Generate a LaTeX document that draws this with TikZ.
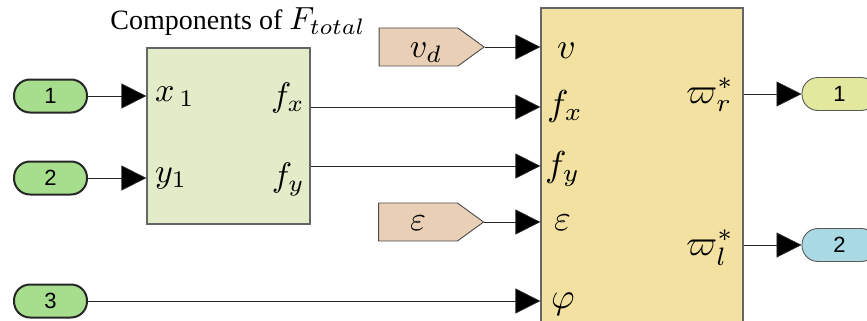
\documentclass[tikz,border=0pt]{standalone}
\usepackage{fontspec}
\newfontfamily\sansf{Liberation Sans}
\newfontfamily\seriff{Liberation Serif}
\usetikzlibrary{arrows.meta,shapes.symbols}
\definecolor{ingreen}{HTML}{A6DE8E}
\definecolor{ablock}{HTML}{E2ECC8}
\definecolor{byellow}{HTML}{F2E1A0}
\definecolor{tanc}{HTML}{E9CFB5}
\definecolor{outa}{HTML}{E2E89E}
\definecolor{outb}{HTML}{A9D9E3}
\newcommand{\mA}[1]{\scalebox{3.4}{\(#1\)}}
\newcommand{\mB}[1]{\scalebox{3.6}{\(#1\)}}
\begin{document}
\begin{tikzpicture}[x=1pt,y=-1pt,
  inoval/.style={draw=black!85, line width=2pt, fill=ingreen, rounded corners=16pt,
    minimum width=73pt, minimum height=33pt, inner sep=0pt, font=\sansf\fontsize{22}{22}\selectfont},
  outoval/.style={draw=black!65, line width=0.9pt, rounded corners=16pt,
    minimum width=75pt, minimum height=33pt, inner sep=0pt, font=\sansf\fontsize{22}{22}\selectfont},
  conn/.style={draw=black!85, line width=0.8pt, -{Triangle[length=25pt,width=25pt,fill=black]}},
  blk/.style={draw=black!60, line width=1.2pt, inner sep=0pt},
  tag/.style={signal, signal to=east, signal pointer angle=72, draw=black!70, line width=0.9pt,
    fill=tanc, minimum width=105pt, minimum height=38pt, inner sep=0pt},
  lbl/.style={inner sep=0pt, font=\fontsize{10}{12}\selectfont}]
\useasboundingbox (0,0) rectangle (867,321);

% blocks
\node[blk, fill=ablock, minimum width=163pt, minimum height=176pt] (A) at (228.5,136) {};
\node[blk, fill=byellow, minimum width=202pt, minimum height=330pt] (B) at (642,173) {};

% title
\node[inner sep=0pt, anchor=base] (title) at (238,30) {\seriff\fontsize{28}{30}\selectfont Components of \scalebox{3.2}{\fontsize{10}{12}\selectfont\(F_{total}\)}};

% input ports
\node[inoval] (i1) at (50.5,96) {1};
\node[inoval] (i2) at (50.5,178) {2};
\node[inoval] (i3) at (50.5,301) {3};

% tags
\node[tag] (vd) at (418.5,47) {};
\node[lbl, anchor=base] (vdl) at (426,57) {\mA{v_d}};
\node[tag] (eps) at (418,222) {};
\node[lbl, anchor=base] (epsl) at (418,230) {\mA{\varepsilon}};

% output ports
\node[outoval, fill=outa] (o1) at (839.5,94) {1};
\node[outoval, fill=outb] (o2) at (839.5,245) {2};

% port rows
\coordinate (rfx) at (0,107);
\coordinate (rfy) at (0,166);

% labels block A
\node[lbl, anchor=base west] (ax) at (155,101) {\mA{x_{\,1}}};
\node[lbl, anchor=base west] (ay) at (155,182) {\mA{y_1}};
\node[lbl, anchor=base east] (afx) at (305,106) {\mA{f_x}};
\node[lbl, anchor=base east] (afy) at (305,186) {\mA{f_y}};

% labels block B
\node[lbl, anchor=base west] (bv) at (557,59) {\mB{v}};
\node[lbl, anchor=base west] (bfx) at (547,115) {\mB{f_x}};
\node[lbl, anchor=base west] (bfy) at (545,176) {\mB{f_y}};
\node[lbl, anchor=base west] (beps) at (554,230) {\mB{\varepsilon}};
\node[lbl, anchor=base west] (bphi) at (551,308) {\mB{\varphi}};
\node[lbl, anchor=base east] (bwr) at (734,103) {\mB{\varpi_r^*}};
\node[lbl, anchor=base east] (bwl) at (734,255) {\mB{\varpi_l^*}};

% connectors
\draw[conn] (i1) -- (i1 -| A.west);
\draw[conn] (i2) -- (i2 -| A.west);
\draw[conn] (i3) -- (i3 -| B.west);
\draw[conn] (A.east |- rfx) -- (B.west |- rfx);
\draw[conn] (A.east |- rfy) -- (B.west |- rfy);
\draw[conn] (vd.east) -- (B.west |- vd.east);
\draw[conn] (eps.east) -- (B.west |- eps.east);
\draw[conn] (B.east |- o1) -- (o1.west);
\draw[conn] (B.east |- o2) -- (o2.west);
\end{tikzpicture}
\end{document}
